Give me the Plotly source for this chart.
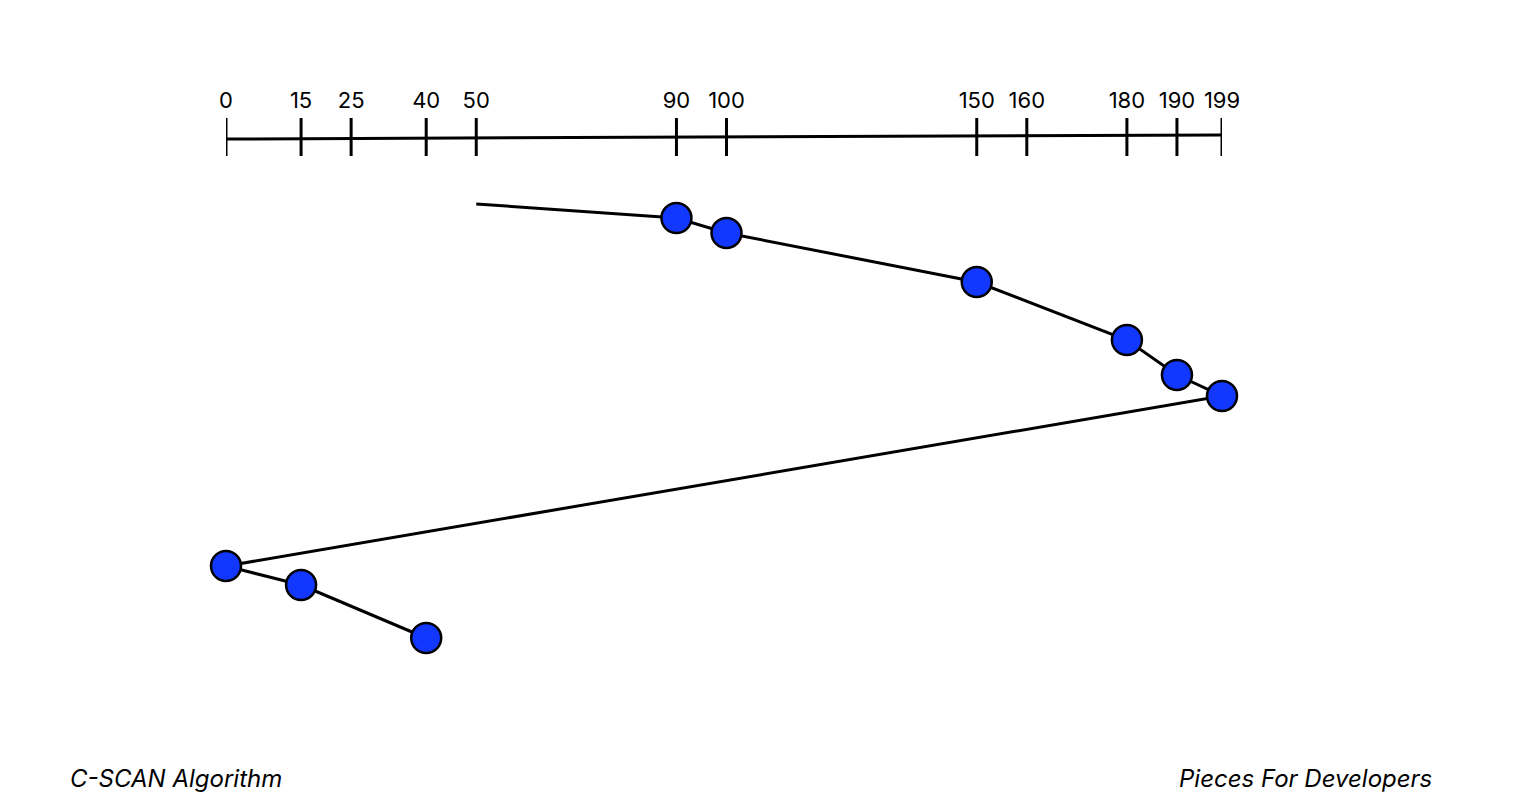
import plotly.graph_objects as go

# cylinder scale shown on the top ruler
tick_values = [0, 15, 25, 40, 50, 90, 100, 150, 160, 180, 190, 199]

# C-SCAN head path: start at 50, sweep up to 199, jump to 0, continue
head_start = 50
path_cylinders = [90, 100, 150, 180, 190, 199, 0, 15, 40]
start_step = 0
path_steps = [14, 29, 78, 136, 171, 192, 362, 381, 434]

RULER_Y = -67
TICK_HALF = 19
LABEL_Y = -102

fig = go.Figure()

# ruler baseline
fig.add_trace(go.Scatter(
    x=[min(tick_values), max(tick_values)], y=[RULER_Y + 2, RULER_Y - 2],
    mode="lines", line=dict(color="black", width=3), hoverinfo="skip",
    cliponaxis=False,
))

# ruler ticks
tx, ty = [], []
for v in tick_values:
    tx += [v, v, None]
    ty += [RULER_Y - TICK_HALF, RULER_Y + TICK_HALF, None]
fig.add_trace(go.Scatter(x=tx, y=ty, mode="lines", cliponaxis=False,
                         line=dict(color="black", width=3), hoverinfo="skip"))

# ruler labels
fig.add_trace(go.Scatter(
    x=tick_values, y=[LABEL_Y] * len(tick_values), mode="text",
    text=[str(v) for v in tick_values], cliponaxis=False,
    textfont=dict(family="Inter", size=22, color="black"), hoverinfo="skip",
))

# head path line
fig.add_trace(go.Scatter(
    x=[head_start] + path_cylinders, y=[start_step] + path_steps,
    mode="lines", line=dict(color="black", width=3), cliponaxis=False,
))

# requests
fig.add_trace(go.Scatter(
    x=path_cylinders, y=path_steps, mode="markers", cliponaxis=False,
    marker=dict(size=30, color="#1238ff", line=dict(color="black", width=2.5)),
))

fig.add_annotation(text="<i>C-SCAN Algorithm</i>", xref="paper", yref="paper",
                   x=-0.159, y=0.035, xanchor="left", yanchor="middle",
                   showarrow=False, font=dict(family="Inter", size=24, color="black"))
fig.add_annotation(text="<i>Pieces For Developers</i>", xref="paper", yref="paper",
                   x=1.213, y=0.035, xanchor="right", yanchor="middle",
                   showarrow=False, font=dict(family="Inter", size=24, color="black"))

fig.update_xaxes(range=[0, 199], visible=False)
fig.update_yaxes(range=[602, -196], visible=False)
fig.update_layout(
    width=1520, height=798,
    margin=dict(l=218, r=306, t=0, b=0),
    showlegend=False,
    plot_bgcolor="white", paper_bgcolor="white",
)

fig.write_html("out.html")
